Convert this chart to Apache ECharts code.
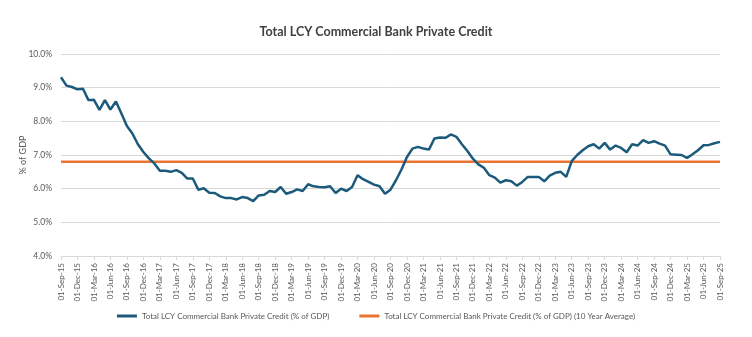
<!DOCTYPE html>
<html><head><meta charset="utf-8">
<script src="https://cdn.jsdelivr.net/npm/echarts@6/dist/echarts.min.js"></script>
<style>html,body{margin:0;padding:0;background:#fff}#c{width:752px;height:337px}</style>
</head><body><div id="c"></div>
<script>
const months = ['Jan','Feb','Mar','Apr','May','Jun','Jul','Aug','Sep','Oct','Nov','Dec'];
// monthly categories Sep-2015 .. Sep-2025
const categories = [];
for (let y = 2015, m = 8; y < 2025 || (y === 2025 && m <= 8); ) {
  categories.push('01-' + months[m] + '-' + String(y).slice(2));
  m++; if (m === 12) { m = 0; y++; }
}
const creditPct = [
  9.31, 9.06, 9.02, 8.95, 8.97, 8.63, 8.64, 8.34, 8.63, 8.35, 8.59, 8.23,
  7.86, 7.64, 7.32, 7.09, 6.90, 6.75, 6.53, 6.53, 6.50, 6.55, 6.47, 6.30,
  6.30, 5.97, 6.01, 5.88, 5.87, 5.77, 5.72, 5.72, 5.68, 5.75, 5.72, 5.63,
  5.80, 5.82, 5.93, 5.90, 6.05, 5.85, 5.90, 5.98, 5.93, 6.13, 6.07, 6.05,
  6.04, 6.07, 5.87, 6.00, 5.93, 6.05, 6.40, 6.28, 6.20, 6.12, 6.07, 5.85,
  5.97, 6.25, 6.57, 6.94, 7.19, 7.24, 7.19, 7.16, 7.49, 7.52, 7.51, 7.61,
  7.54, 7.32, 7.12, 6.89, 6.72, 6.62, 6.40, 6.33, 6.18, 6.25, 6.22, 6.09,
  6.20, 6.35, 6.35, 6.35, 6.22, 6.39, 6.47, 6.50, 6.35, 6.82, 7.00, 7.14,
  7.26, 7.32, 7.19, 7.36, 7.16, 7.28, 7.21, 7.08, 7.32, 7.28, 7.44, 7.36,
  7.41, 7.34, 7.28, 7.02, 7.01, 7.00, 6.91, 7.02, 7.14, 7.29, 7.30, 7.35,
  7.39
];
const avgValue = 6.8;
const avgPct = categories.map(() => avgValue);
const seriesNames = ['Total LCY Commercial Bank Private Credit (% of GDP)',
                     'Total LCY Commercial Bank Private Credit (% of GDP) (10 Year Average)'];
const yTicks = [4, 5, 6, 7, 8, 9, 10];

const FONT = 'Lato, "Open Sans", sans-serif';
const chart = echarts.init(document.getElementById('c'), null, {renderer: 'canvas'});
chart.setOption({
  animation: false,
  backgroundColor: '#fff',
  title: {
    text: 'Total LCY Commercial Bank Private Credit',
    left: 'center', top: 20,
    textStyle: {fontFamily: FONT, fontSize: 12.5, fontWeight: 'bold', color: '#404040'}
  },
  grid: {left: 61, right: 32, top: 54, bottom: 81, containLabel: false},
  legend: {
    bottom: 12, left: 'center',
    itemWidth: 20, itemHeight: 3, itemGap: 30,
    icon: 'rect',
    textStyle: {fontFamily: FONT, fontSize: 8, color: '#595959'},
    data: seriesNames
  },
  xAxis: {
    type: 'category', data: categories, boundaryGap: false,
    axisLine: {lineStyle: {color: '#d9d9d9'}},
    axisTick: {show: true, interval: 2, length: 4, lineStyle: {color: '#d9d9d9'}},
    axisLabel: {interval: 2, rotate: 90, fontFamily: FONT, fontSize: 8, color: '#595959', margin: 7}
  },
  yAxis: {
    type: 'value', min: yTicks[0], max: yTicks[yTicks.length - 1], interval: 1,
    name: '% of GDP', nameLocation: 'middle', nameGap: 33, nameRotate: 90,
    nameMoveOverlap: false,
    nameTextStyle: {fontFamily: FONT, fontSize: 9, color: '#595959'},
    axisLine: {show: false}, axisTick: {show: false},
    axisLabel: {formatter: v => v.toFixed(1) + '%', fontFamily: FONT, fontSize: 8.5, color: '#595959', margin: 9},
    splitLine: {lineStyle: {color: '#d9d9d9', width: 1}}
  },
  series: [
    {name: seriesNames[0], type: 'line', data: creditPct, showSymbol: false,
     lineStyle: {color: '#1b5a7a', width: 2.5}, itemStyle: {color: '#1b5a7a'}, z: 3},
    {name: seriesNames[1], type: 'line', data: avgPct, showSymbol: false,
     lineStyle: {color: '#ec7433', width: 2.5}, itemStyle: {color: '#ec7433'}, z: 2}
  ]
});
</script></body></html>
